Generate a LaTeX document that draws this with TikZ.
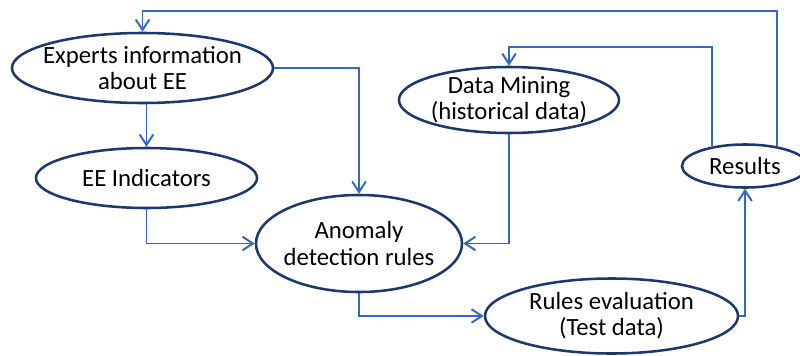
\documentclass[tikz,border=0pt]{standalone}
\usepackage{fontspec}
\setmainfont{Carlito}
\usetikzlibrary{shapes.geometric,arrows.meta}
\definecolor{ovalnavy}{RGB}{28,56,112}
\definecolor{linkblue}{RGB}{52,104,200}

\begin{document}
\begin{tikzpicture}[x=0.025cm,y=-0.025cm]
  \tikzset{flowoval/.style={ellipse,draw=ovalnavy,line width=1.8pt,inner sep=0pt}}
  \tikzset{ovaltext/.style={align=center,text=black,font=\fontsize{17.6}{18.5}\selectfont}}
  \tikzset{flowlink/.style={draw=linkblue,line width=1.4pt,-{Straight Barb[length=2.6mm,width=3.4mm]}}}

  \useasboundingbox (0,0) rectangle (800,355);

  \node[flowoval,minimum width=6.525cm,minimum height=1.75cm,
        label={[ovaltext]center:Experts information\\about EE}] (exp) at (142.5,68) {};
  \node[flowoval,minimum width=5.525cm,minimum height=1.5cm,
        label={[ovaltext]center:EE Indicators}] (ind) at (146.5,178) {};
  \node[flowoval,minimum width=5.15cm,minimum height=2.425cm,
        label={[ovaltext]center:Anomaly\\detection rules}] (anom) at (359,243.5) {};
  \node[flowoval,minimum width=5.5cm,minimum height=1.65cm,
        label={[ovaltext]center:Data Mining\\(historical data)}] (dm) at (509,100) {};
  \node[flowoval,minimum width=3.15cm,minimum height=1.075cm,
        label={[ovaltext]center:Results}] (res) at (745,166) {};
  \node[flowoval,minimum width=6.325cm,minimum height=1.875cm,
        label={[ovaltext]center:Rules evaluation\\(Test data)}] (reval) at (611.5,316) {};

  \coordinate (toprow) at (0,11);
  \coordinate (midrow) at (0,47);

  \draw[flowlink] (res.32) -- (res.32 |- toprow) -| (exp.north);
  \draw[flowlink] (res.149) -- (res.149 |- midrow) -| (dm.north);
  \draw[flowlink] (exp.east) -| (anom.north);
  \draw[flowlink] (ind.north |- exp.south) -- (ind.north);
  \draw[flowlink] (ind.south) |- (anom.west);
  \draw[flowlink] (dm.south) |- (anom.east);
  \draw[flowlink] (anom.south) |- (reval.west);
  \draw[flowlink] (reval.east) -| (res.south);
\end{tikzpicture}
\end{document}
